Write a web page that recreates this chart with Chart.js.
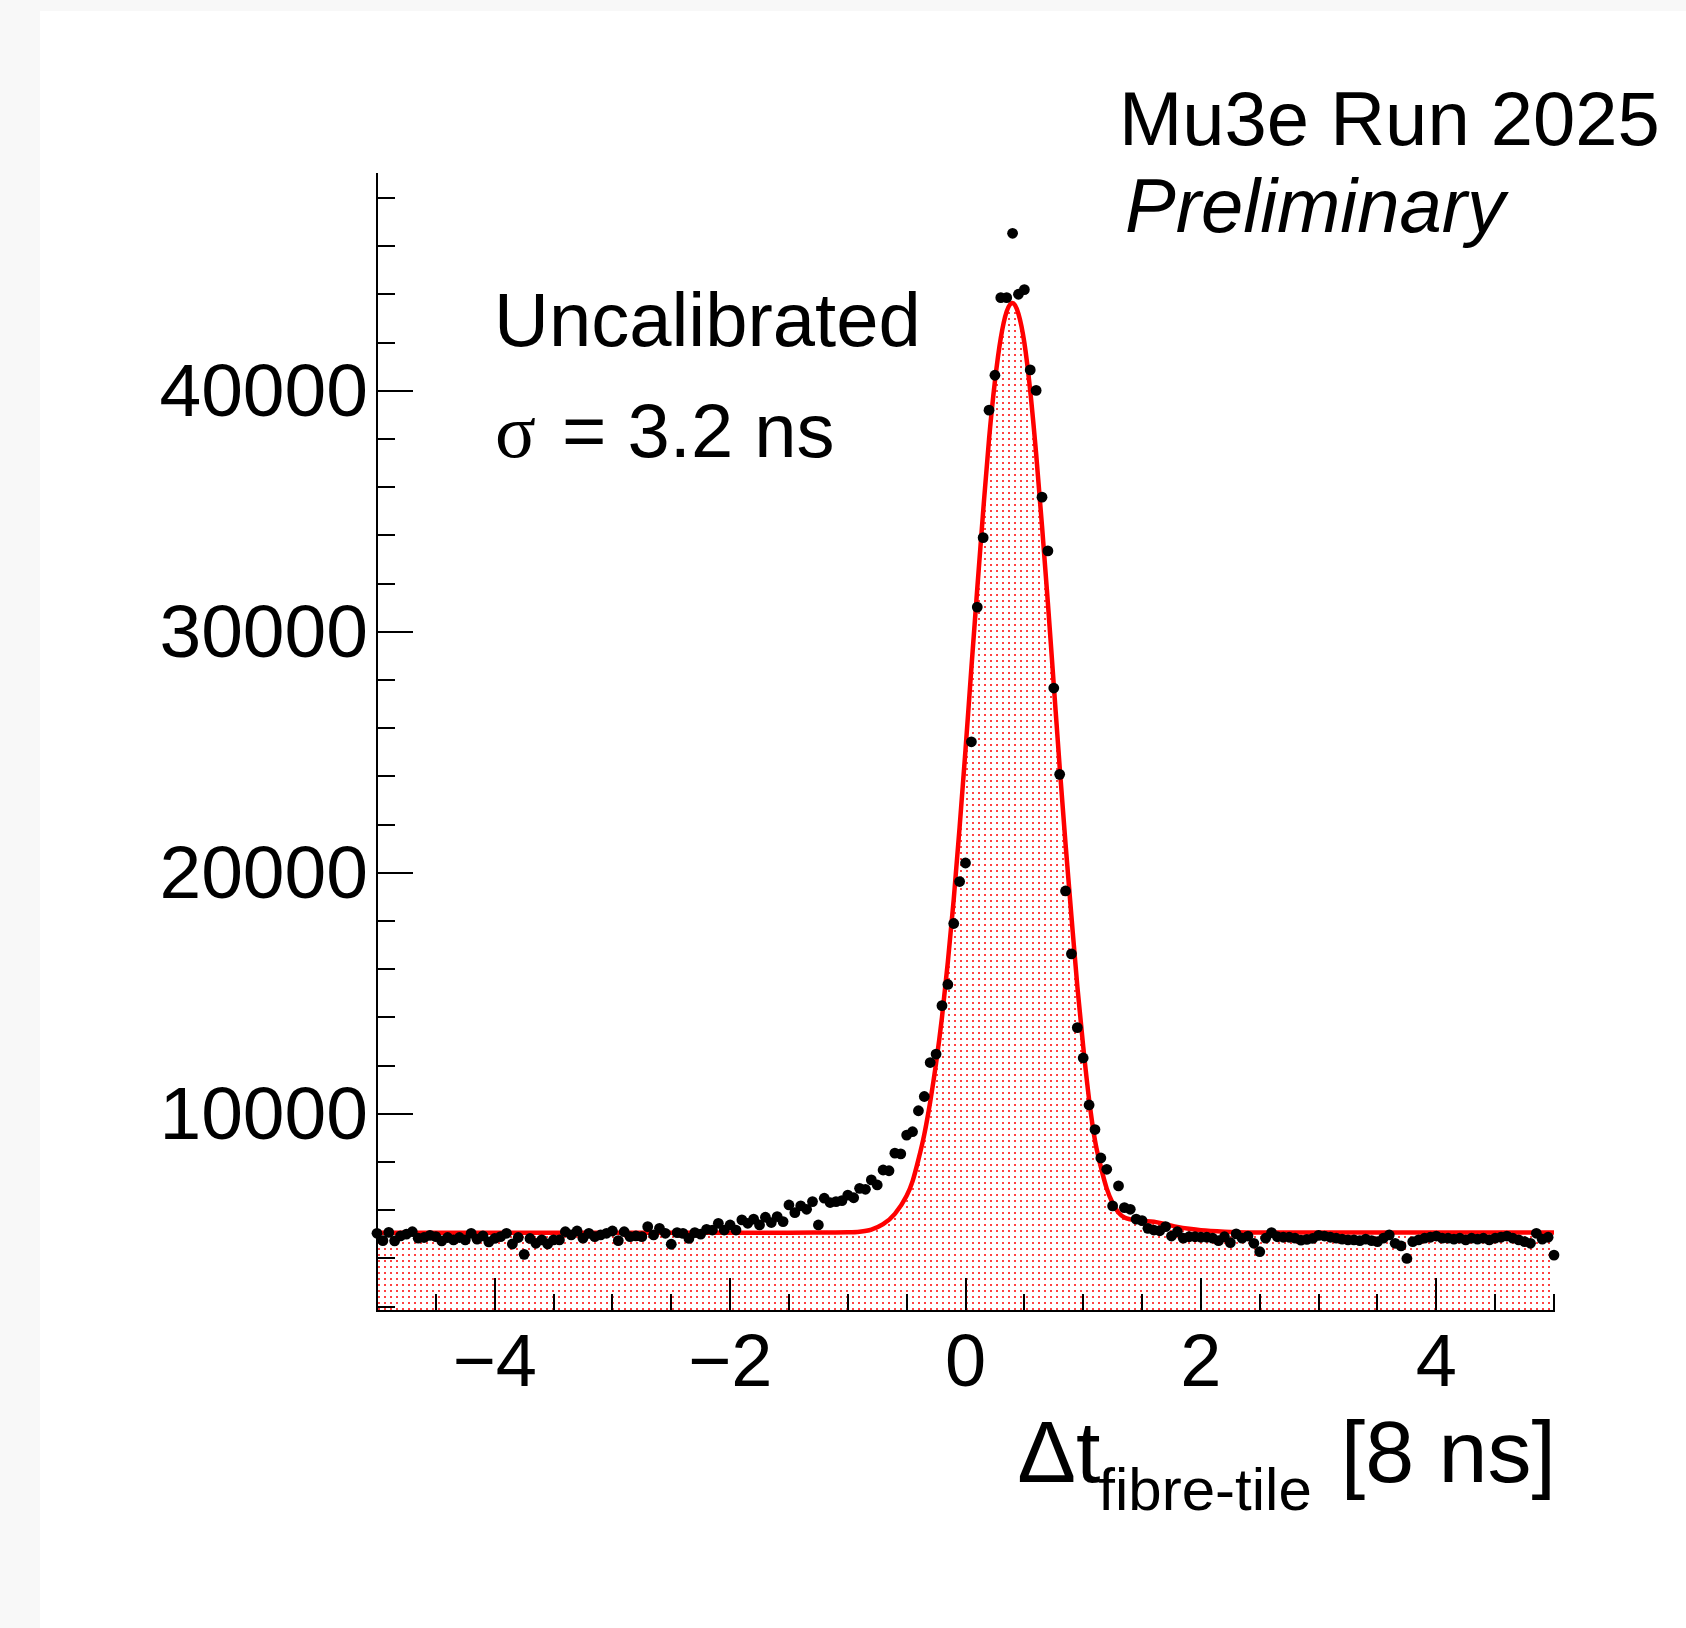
<!DOCTYPE html>
<html>
<head>
<meta charset="utf-8">
<script src="https://cdn.jsdelivr.net/npm/chart.js@4.4.1/dist/chart.umd.min.js"></script>
<style>
  html, body { margin: 0; padding: 0; background: #f8f8f8; }
  #sheet { position: absolute; left: 40px; top: 11px; width: 1646px; height: 1617px; background: #fff; }
  #plot { position: absolute; left: 0; top: 0; }
</style>
</head>
<body>
<div id="sheet"></div>
<canvas id="plot" width="1686" height="1628"></canvas>
<script>
// histogram: 201 bins, 0.05 wide, first centre at -5
const binLow = -5;
const binWidth = 0.05;
const counts = [
  5045, 4740, 5080, 4730, 4940, 5010, 5110, 4840, 4870, 4960,
  4905, 4730, 4870, 4770, 4870, 4770, 5045, 4800, 4940, 4690,
  4830, 4905, 5045, 4600, 4870, 4170, 4830, 4630, 4770, 4600,
  4770, 4770, 5110, 4975, 5140, 4840, 5045, 4905, 4975, 5045,
  5140, 4740, 5110, 4905, 4940, 4905, 5320, 4975, 5250, 5045,
  4590, 5070, 5040, 4830, 5070, 5010, 5210, 5180, 5460, 5180,
  5390, 5180, 5600, 5460, 5630, 5390, 5710, 5490, 5740, 5530,
  6220, 5900, 6180, 6040, 6360, 5390, 6500, 6320, 6360, 6400,
  6630, 6520, 6910, 6870, 7260, 7050, 7670, 7640, 8370, 8340,
  9120, 9260, 10130, 10720, 12130, 12480, 14490, 15370, 17900, 19640,
  20410, 25440, 31030, 33910, 39200, 40650, 43870, 43870, 46540, 44010,
  44200, 40870, 40020, 35590, 33360, 27670, 24090, 19250, 16640, 13580,
  12320, 10370, 9350, 8170, 7700, 6180, 7010, 6110, 6040, 5630,
  5570, 5250, 5180, 5150, 5320, 4930, 5110, 4840, 4900, 4900,
  4880, 4880, 4840, 4740, 4900, 4660, 5020, 4840, 4930, 4630,
  4280, 4840, 5070, 4900, 4880, 4880, 4840, 4760, 4790, 4830,
  4960, 4930, 4880, 4840, 4800, 4770, 4770, 4740, 4800, 4740,
  4700, 4840, 4975, 4630, 4520, 4000, 4700, 4770, 4840, 4880,
  4930, 4840, 4840, 4800, 4840, 4770, 4840, 4800, 4840, 4770,
  4840, 4880, 4930, 4840, 4770, 4700, 4630, 5045, 4800, 4880,
  4140
];

// fitted function
const fitX = [-5, -2, -1.5, -1.2, -1.0, -0.9, -0.8, -0.7, -0.6, -0.5,
  -0.45, -0.4, -0.35, -0.3, -0.25, -0.2, -0.15, -0.1, -0.05, 0,
  0.05, 0.1, 0.15, 0.2, 0.25, 0.3, 0.35, 0.4, 0.45, 0.5,
  0.55, 0.6, 0.65, 0.7, 0.75, 0.8, 0.85, 0.9, 0.95, 1.0,
  1.05, 1.1, 1.15, 1.2, 1.25, 1.3, 1.35, 1.4, 1.5, 1.6,
  1.7, 1.8, 1.9, 2.0, 2.2, 2.4, 2.6, 5];
const fitY = [5070, 5070, 5072, 5078, 5085, 5110, 5200, 5420, 5850, 6600,
  7200, 8100, 9150, 10500, 12100, 14000, 16300, 18900, 21900, 25100,
  28500, 31800, 35000, 38000, 40400, 42200, 43300, 43650, 43200, 42000,
  40000, 37400, 34400, 31200, 27800, 24400, 21200, 18200, 15300, 12800,
  10600, 8900, 7800, 6900, 6300, 5900, 5700, 5620, 5560, 5520,
  5420, 5310, 5230, 5170, 5110, 5080, 5075, 5075];

const xRange = [-5, 5];
const yRange = [1820, 49000];
const xLabelTicks = [-4, -2, 0, 2, 4];
const yLabelTicks = [10000, 20000, 30000, 40000];
const xMinorStep = 0.5;
const yMinorStep = 2000;

const points = counts.map((c, i) => ({ x: +(binLow + i * binWidth).toFixed(3), y: c }));
const fitPoints = fitX.map((x, i) => ({ x: x, y: fitY[i] }));

const ctx = document.getElementById('plot').getContext('2d');

// red dot hatch, like ROOT fill style 3001
function dotPattern() {
  const tile = document.createElement('canvas');
  tile.width = 6;
  tile.height = 6;
  const t = tile.getContext('2d');
  t.fillStyle = 'rgba(255, 0, 0, 0.75)';
  t.fillRect(0, 0, 2, 2);
  return ctx.createPattern(tile, 'repeat');
}

const FONT = '"Liberation Sans", Arial, Helvetica, sans-serif';

const rootTicks = {
  id: 'rootTicks',
  afterDraw(chart) {
    const { ctx, chartArea: a, scales: { x, y } } = chart;
    ctx.save();
    ctx.strokeStyle = '#000';
    ctx.lineWidth = 2;
    ctx.beginPath();
    const nx = Math.round((xRange[1] - xRange[0]) / xMinorStep);
    for (let i = 1; i <= nx; i++) {
      const v = xRange[0] + i * xMinorStep;
      const px = Math.round(x.getPixelForValue(v));
      const len = xLabelTicks.includes(v) ? 33 : 17;
      ctx.moveTo(px, a.bottom);
      ctx.lineTo(px, a.bottom - len);
    }
    for (let v = yMinorStep; v <= yRange[1]; v += yMinorStep) {
      const py = Math.round(y.getPixelForValue(v));
      const len = yLabelTicks.includes(v) ? 36 : 18;
      ctx.moveTo(a.left, py);
      ctx.lineTo(a.left + len, py);
    }
    ctx.stroke();
    ctx.restore();
  }
};

const labels = {
  id: 'labels',
  afterDraw(chart) {
    const c = chart.ctx;
    c.save();
    c.fillStyle = '#000';
    c.textBaseline = 'alphabetic';
    c.textAlign = 'left';

    c.font = '76px ' + FONT;
    c.fillText('Mu3e Run 2025', 1119, 145);
    c.font = 'italic 76px ' + FONT;
    c.fillText('Preliminary', 1125, 232);

    c.font = '76px ' + FONT;
    c.fillText('Uncalibrated', 494, 346);
    c.font = '76px "Liberation Serif", "DejaVu Serif", serif';
    c.fillText('\u03c3', 495, 457);
    c.font = '76px ' + FONT;
    c.fillText('= 3.2 ns', 562, 457);

    // axis title with subscript, right aligned to the axis end
    const right = chart.chartArea.right + 2;
    c.font = '88px ' + FONT;
    const main = '\u0394t';
    const unit = '[8 ns]';
    const wMain = c.measureText(main).width;
    const wUnit = c.measureText(unit).width;
    c.font = '60px ' + FONT;
    const sub = 'fibre-tile';
    const wSub = c.measureText(sub).width;
    const gap = 27;
    const x0 = right - (wMain + wSub + gap + wUnit);
    c.font = '88px ' + FONT;
    c.fillText(main, x0, 1482);
    c.fillText(unit, x0 + wMain + wSub + gap, 1482);
    c.font = '60px ' + FONT;
    c.fillText(sub, x0 + wMain - 2, 1510);
    c.restore();
  }
};

new Chart(ctx, {
  type: 'scatter',
  data: {
    datasets: [
      {
        type: 'line',
        data: fitPoints,
        borderColor: '#ff0000',
        borderWidth: 4.5,
        pointRadius: 0,
        cubicInterpolationMode: 'monotone',
        fill: 'start',
        backgroundColor: dotPattern(),
        order: 2
      },
      {
        type: 'scatter',
        data: points,
        pointRadius: 5.4,
        pointBackgroundColor: '#000',
        pointBorderWidth: 0,
        clip: false,
        order: 1
      }
    ]
  },
  options: {
    responsive: false,
    devicePixelRatio: 1,
    animation: false,
    layout: { padding: { left: 0, top: 174, right: 132, bottom: 217 } },
    plugins: { legend: { display: false }, tooltip: { enabled: false } },
    scales: {
      x: {
        type: 'linear',
        min: xRange[0],
        max: xRange[1],
        grid: { display: false, drawTicks: false },
        border: { display: true, color: '#000', width: 2 },
        ticks: {
          color: '#000',
          font: { family: FONT, size: 74 },
          padding: 10,
          autoSkip: false,
          maxRotation: 0,
          callback: v => (v < 0 ? '\u2212' + Math.abs(v) : String(v))
        },
        afterBuildTicks: s => { s.ticks = xLabelTicks.map(v => ({ value: v })); },
        afterFit: s => { s.height = 100; }
      },
      y: {
        type: 'linear',
        min: yRange[0],
        max: yRange[1],
        grid: { display: false, drawTicks: false },
        border: { display: true, color: '#000', width: 2 },
        ticks: {
          color: '#000',
          font: { family: FONT, size: 75 },
          padding: 9,
          labelOffset: 4,
          autoSkip: false,
          callback: v => String(v)
        },
        afterBuildTicks: s => { s.ticks = yLabelTicks.map(v => ({ value: v })); },
        afterFit: s => { s.width = 377; }
      }
    }
  },
  plugins: [rootTicks, labels]
});
</script>
</body>
</html>
